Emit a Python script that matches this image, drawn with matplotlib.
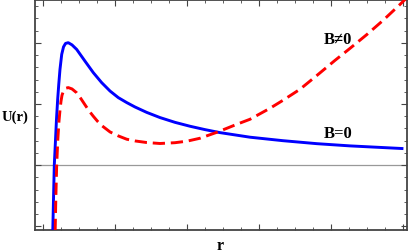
import numpy as np
import matplotlib
matplotlib.use("Agg")
import matplotlib.pyplot as plt
from matplotlib.ticker import MultipleLocator

# values (r, U)
r_b0 = [1.136, 1.146, 1.157, 1.171, 1.1875, 1.204, 1.219, 1.236, 1.260, 1.285,
        1.313, 1.351, 1.403, 1.468, 1.583, 1.699, 1.815, 1.931, 2.046, 2.163,
        2.278, 2.440, 2.625, 2.833, 3.042, 3.250, 3.458, 3.875, 4.333, 4.806,
        5.264, 5.986]
u_b0 = [-1.077, -0.555, 0.000, 0.343, 0.750, 1.077, 1.321, 1.566, 1.811, 1.933,
        1.990, 2.002, 1.966, 1.892, 1.701, 1.512, 1.349, 1.212, 1.104, 1.023,
        0.951, 0.863, 0.778, 0.700, 0.636, 0.581, 0.532, 0.457, 0.400, 0.351,
        0.315, 0.272]

r_b1 = [1.169, 1.178, 1.190, 1.206, 1.222, 1.236, 1.250, 1.264, 1.285, 1.313,
        1.351, 1.403, 1.468, 1.528, 1.583, 1.639, 1.699, 1.757, 1.815, 1.931,
        2.046, 2.163, 2.278, 2.440, 2.625, 2.833, 3.000, 3.181, 3.417, 3.694,
        3.875, 4.153, 4.333, 4.569, 4.806, 5.056, 5.264, 5.500, 5.722, 5.958,
        6.042]
u_b1 = [-1.077, -0.555, 0.000, 0.424, 0.718, 0.897, 1.044, 1.142, 1.215, 1.256,
        1.268, 1.246, 1.183, 1.085, 0.987, 0.889, 0.799, 0.718, 0.648, 0.543,
        0.478, 0.424, 0.396, 0.370, 0.354, 0.367, 0.392, 0.440, 0.538, 0.669,
        0.750, 0.930, 1.060, 1.240, 1.468, 1.713, 1.909, 2.137, 2.365, 2.626,
        2.724]

serif = ["Liberation Serif", "DejaVu Serif"]

fig = plt.figure(figsize=(4.09, 2.53), dpi=100)
ax = fig.add_axes([35 / 409, 22 / 253, 372 / 409, 230.5 / 253])

ax.axhline(0, color="#999999", linewidth=0.9, zorder=1)
ax.plot(r_b0, u_b0, color="#0000ff", linewidth=2.1, zorder=3)
ax.plot(r_b1, u_b1, color="#ff0000", linewidth=2.1, dashes=(4.2, 2.0), zorder=4)

ax.set_xlim(0.889, 6.056)
ax.set_ylim(-1.060, 2.708)

ax.xaxis.set_major_locator(MultipleLocator(1))
ax.xaxis.set_minor_locator(MultipleLocator(0.25))
ax.yaxis.set_major_locator(MultipleLocator(1))
ax.yaxis.set_minor_locator(MultipleLocator(0.2))
ax.tick_params(which="both", direction="in", top=True, right=True,
               labelbottom=False, labelleft=False, color="#444444")
ax.tick_params(which="major", length=4, width=0.8)
ax.tick_params(which="minor", length=2, width=0.6)
for s in ax.spines.values():
    s.set_color("#444444")
    s.set_linewidth(1.3)

ax.text(5.097, 2.06, "B\u22600", family=serif, weight="bold", fontsize=12,
        ha="center", va="center")
ax.text(5.097, 0.52, "B=0", family=serif, weight="bold", fontsize=12,
        ha="center", va="center")

fig.text(15 / 409, 1 - 117 / 253, "U(r)", family=serif, weight="bold",
         fontsize=10.5, ha="center", va="center")
fig.text(220 / 409, 1 - 246 / 253, "r", family=serif, weight="bold",
         fontsize=11.5, ha="center", va="center")

fig.savefig("out.png", dpi=100)
